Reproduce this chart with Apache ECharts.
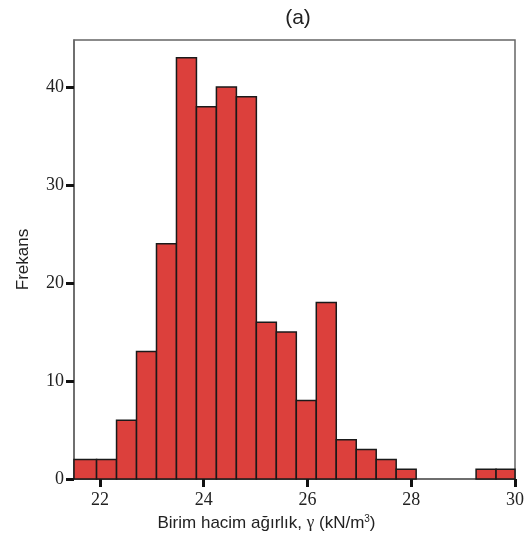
<!DOCTYPE html>
<html>
<head>
<meta charset="utf-8">
<script src="https://cdn.jsdelivr.net/npm/echarts@6/dist/echarts.min.js"></script>
<style>html,body{margin:0;padding:0;background:#fff;}#c{width:528px;height:542px;}</style>
</head>
<body>
<div id="c"></div>
<script>
// Histogram bins: lower edges (kN/m3) and frequencies
var binLower = [21.5, 21.935, 22.32, 22.705, 23.09, 23.475, 23.86, 24.245, 24.63, 25.015, 25.40, 25.785, 26.17, 26.555, 26.94, 27.325, 27.71, 28.095, 28.48, 28.865, 29.25, 29.635];
var binUpper = [21.935, 22.32, 22.705, 23.09, 23.475, 23.86, 24.245, 24.63, 25.015, 25.40, 25.785, 26.17, 26.555, 26.94, 27.325, 27.71, 28.095, 28.48, 28.865, 29.25, 29.635, 30.0];
var counts   = [2, 2, 6, 13, 24, 43, 38, 40, 39, 16, 15, 8, 18, 4, 3, 2, 1, 0, 0, 0, 1, 1];
var xTicks = [22, 24, 26, 28, 30];
var yTicks = [0, 10, 20, 30, 40];

var data = [];
for (var i = 0; i < counts.length; i++) {
  if (counts[i] > 0) data.push([binLower[i], binUpper[i], counts[i]]);
}

var chart = echarts.init(document.getElementById('c'), null, {renderer: 'canvas'});
chart.setOption({
  backgroundColor: '#fff',
  animation: false,
  title: {
    text: '(a)',
    left: 293, top: 3,
    textAlign: 'center',
    textStyle: {fontFamily: 'Liberation Sans', fontSize: 21, fontWeight: 'normal', color: '#222'}
  },
  grid: {left: 74, right: 13, top: 40, bottom: 63, show: true, borderColor: '#666', borderWidth: 1.5, backgroundColor: 'transparent'},
  xAxis: {
    type: 'value', min: 21.5, max: 30,
    name: '{a|Birim hacim ağırlık, }{g|γ}{a| (kN/m}{s|3}{a|)}',
    nameLocation: 'middle', nameGap: 33,
    nameTextStyle: {
      padding: [0, 56, 0, 0],
      rich: {
        a: {fontFamily: 'Liberation Sans', fontSize: 17, color: '#222'},
        g: {fontFamily: 'Liberation Serif', fontSize: 17, color: '#222'},
        s: {fontFamily: 'Liberation Sans', fontSize: 10, color: '#222', verticalAlign: 'top', padding: [0, 0, 8, 0]}
      }
    },
    splitLine: {show: false},
    axisLine: {show: true, onZero: false, lineStyle: {color: '#666', width: 1.5}},
    axisTick: {show: true, length: 8, lineStyle: {color: '#111', width: 3}, customValues: xTicks},
    axisLabel: {fontFamily: 'Liberation Serif', fontSize: 18, color: '#222', margin: 12, customValues: xTicks}
  },
  yAxis: {
    type: 'value', min: 0, max: 44.8,
    name: 'Frekans', nameLocation: 'middle', nameGap: 42, nameRotate: 90,
    nameTextStyle: {fontFamily: 'Liberation Sans', fontSize: 17, color: '#222'},
    splitLine: {show: false},
    axisLine: {show: true, lineStyle: {color: '#666', width: 1.5}},
    axisTick: {show: true, length: 8, lineStyle: {color: '#111', width: 3}, customValues: yTicks},
    axisLabel: {fontFamily: 'Liberation Serif', fontSize: 18, color: '#222', margin: 10, customValues: yTicks}
  },
  series: [{
    type: 'custom',
    data: data,
    encode: {x: [0, 1], y: 2},
    renderItem: function (params, api) {
      var p0 = api.coord([api.value(0), api.value(2)]);
      var p1 = api.coord([api.value(1), 0]);
      return {
        type: 'rect',
        shape: {x: p0[0], y: p0[1], width: p1[0] - p0[0], height: p1[1] - p0[1]},
        style: {fill: '#DC403C', stroke: '#1a1a1a', lineWidth: 1.5}
      };
    }
  }]
});
</script>
</body>
</html>
